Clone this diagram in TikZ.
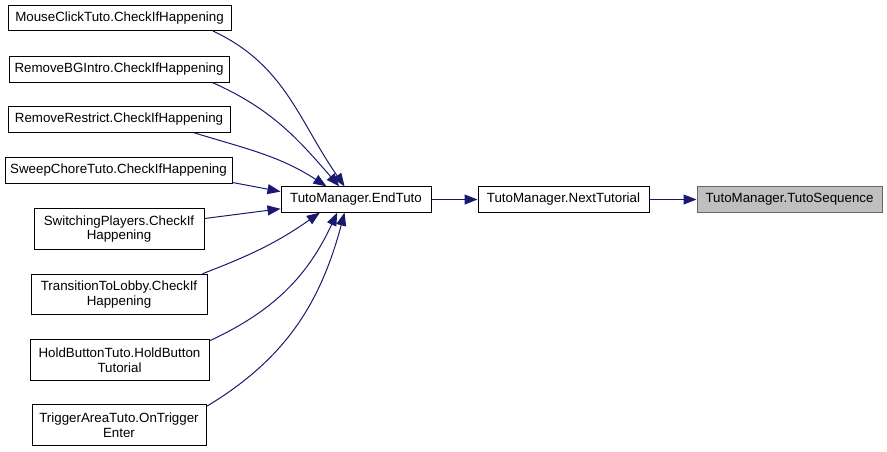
\documentclass[tikz,border=0pt]{standalone}
\usepackage{xcolor}
\usepackage{fontspec}
\setmainfont{Liberation Sans}
\usepackage{tikz}
\usetikzlibrary{arrows.meta}

\definecolor{calledge}{HTML}{191970}
\definecolor{focusfill}{HTML}{BFBFBF}
\definecolor{focusline}{HTML}{666666}

\begin{document}
\begin{tikzpicture}[x=0.75pt, y=0.75pt,
    fn/.style={draw=black, fill=white, line width=0.75pt, inner sep=0pt,
      font=\fontsize{10}{11}\selectfont, align=center, minimum height=19pt},
    fntwo/.style={fn, minimum height=30.5pt},
    focus/.style={fn, fill=focusfill, draw=focusline},
    call/.style={draw=calledge, line width=0.75pt,
      -{Triangle[length=9.75pt, width=7.5pt]}}]
    \useasboundingbox (0,0) rectangle (887,-451);

    	\node[fn, minimum width=167.25pt] (mouse) at (119.5,-18) {MouseClickTuto.CheckIfHappening};
    	\node[fn, minimum width=165pt] (rmbg) at (119,-69.5) {RemoveBGIntro.CheckIfHappening};
    	\node[fn, minimum width=166.5pt] (rmrestrict) at (119,-119.5) {RemoveRestrict.CheckIfHappening};
    	\node[fn, minimum width=170.25pt] (sweep) at (118.5,-170.5) {SweepChoreTuto.CheckIfHappening};
    	\node[fntwo, minimum width=127.5pt] (switching) at (119,-229) {SwitchingPlayers.CheckIf\\Happening};
    	\node[fntwo, minimum width=132pt] (transition) at (119,-294.5) {TransitionToLobby.CheckIf\\Happening};
    	\node[fntwo, minimum width=134.25pt] (holdbtn) at (119.5,-360) {HoldButtonTuto.HoldButton\\Tutorial};
    	\node[fntwo, minimum width=130.5pt] (trigger) at (119,-425) {TriggerAreaTuto.OnTrigger\\Enter};
    %
    	\node[fn, minimum width=112.5pt] (endtuto) at (356,-199.5) {TutoManager.EndTuto};
    	\node[fn, minimum width=128.25pt] (nexttut) at (563.5,-199.5) {TutoManager.NextTutorial};
    	\node[focus, minimum width=138.75pt] (tutoseq) at (789.5,-199.5) {TutoManager.TutoSequence};
    %
    	\path[every edge/.style={call}] (mouse.-8.5) edge[out=-25, in=125] (endtuto.131)
    	 (rmbg.-8.8) edge[out=-24, in=131] (endtuto.142)
    	 (rmrestrict.-10.3) edge[out=-17, in=147] (endtuto.156)
    	 (sweep.-6.8) edge (endtuto.174)
    	 (switching.7.4) edge (endtuto.187)
    	 (transition.14.7) edge[out=21, in=-145] (endtuto.200)
    	 (holdbtn.12.9) edge[out=25, in=-115] (endtuto.215)
    	 (trigger.12) edge[out=31, in=-105] (endtuto.229)
    	 (endtuto) edge (nexttut)
    	 (nexttut) edge (tutoseq);
    \end{tikzpicture}
\end{document}
